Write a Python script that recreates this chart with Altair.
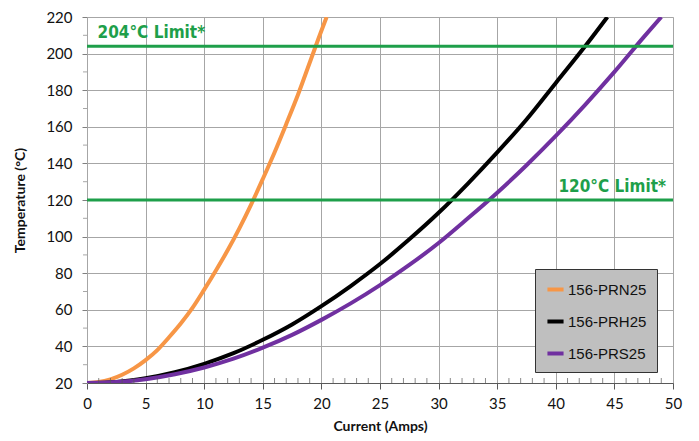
import altair as alt
import pandas as pd

# Data
prn_i = [0, 1, 2, 3, 4, 5, 6, 7, 8, 9, 10, 11, 12, 13, 14, 15, 16, 17, 18, 19, 20, 20.45]
prn_t = [20, 20.5, 22, 24.5, 28, 32.5, 38, 45, 52.5, 61, 71, 81.5, 92.5, 104.5, 117.5, 131.5, 146, 161.5, 177.5, 195, 212.5, 220]

prh_i = [0, 2.5, 5, 7.5, 10, 12.5, 15, 17.5, 20, 22.5, 25, 27.5, 30, 32.5, 35, 37.5, 40, 42.5, 44.4]
prh_t = [20, 20.6, 22.6, 25.9, 30.5, 36.3, 43.6, 52, 62, 73, 85, 98.5, 113, 129, 146, 164, 184, 204, 220]

prs_i = [0, 2.5, 5, 7.5, 10, 12.5, 15, 17.5, 20, 22.5, 25, 27.5, 30, 32.5, 35, 37.5, 40, 42.5, 45, 47.5, 49]
prs_t = [20, 20.5, 22.1, 24.8, 28.5, 33.3, 39.3, 46.3, 54.5, 63.5, 73.5, 84.5, 96.5, 110, 124, 139, 155, 172, 190, 209, 220]

series_names = ["156-PRN25", "156-PRH25", "156-PRS25"]
series_colors = ["#F79646", "#000000", "#7030A0"]

limit_values = [204, 120]
limit_labels = ["204°C Limit*", "120°C  Limit*"]
limit_label_x = [0.9, 49.4]

x_ticks = [0, 5, 10, 15, 20, 25, 30, 35, 40, 45, 50]
y_ticks = [20, 40, 60, 80, 100, 120, 140, 160, 180, 200, 220]
x_minor = [v for v in range(0, 51) if v % 5 != 0]
y_minor = [30, 50, 70, 90, 110, 130, 150, 170, 190, 210]

rows = []
for name, xs, ys in zip(series_names, [prn_i, prh_i, prs_i], [prn_t, prh_t, prs_t]):
    for i, (a, b) in enumerate(zip(xs, ys)):
        rows.append({"series": name, "current": a, "temp": b, "order": i})
df = pd.DataFrame(rows)

GREEN = "#1E9F4A"
GRID = "#A6A6A6"
LABEL_FONT = "DejaVu Sans Condensed, Liberation Sans Narrow, Liberation Sans"

xscale = alt.Scale(domain=[0, 50], nice=False, zero=False)
yscale = alt.Scale(domain=[20, 220], nice=False, zero=False)

x_axis = alt.Axis(values=x_ticks, grid=True, gridColor=GRID, gridWidth=1,
                  domainColor="#595959", tickColor="#595959", tickSize=6,
                  labelFont="Lato", labelFontSize=15, labelColor="#111", labelPadding=7,
                  labelFlush=False, labelOverlap=False,
                  titleFont="Lato", titleFontSize=14, titleFontWeight="bold", titlePadding=8,
                  titleColor="#111")
y_axis = alt.Axis(values=y_ticks, grid=True, gridColor=GRID, gridWidth=1,
                  domainColor=GRID, tickColor="#808080", tickSize=5,
                  labelFont="Lato", labelFontSize=15, labelColor="#111", labelPadding=10,
                  labelFlush=False, labelOverlap=False,
                  titleFont="Lato", titleFontSize=14, titleFontWeight="bold", titlePadding=18,
                  titleColor="#111")

x_enc = alt.X("current:Q", scale=xscale, title="Current (Amps)", axis=x_axis)
y_enc = alt.Y("temp:Q", scale=yscale, title="Temperature (°C)", axis=y_axis)

limits_df = pd.DataFrame({"temp": limit_values, "label": limit_labels, "current": limit_label_x})

lines = alt.Chart(df).mark_line(strokeWidth=4, clip=True, interpolate="monotone").encode(
    x=x_enc, y=y_enc, order="order:Q",
    color=alt.Color("series:N",
                    scale=alt.Scale(domain=series_names, range=series_colors),
                    legend=alt.Legend(title=None, orient="none", legendX=448, legendY=252,
                                      fillColor="#BFBFBF", strokeColor="#333333",
                                      padding=10, symbolType="stroke", symbolStrokeWidth=4,
                                      symbolSize=260, labelFont="Liberation Sans",
                                      labelFontSize=15, labelColor="#111", rowPadding=13,
                                      labelOffset=2)))

limit_rules = alt.Chart(limits_df).mark_rule(color=GREEN, strokeWidth=3).encode(y=y_enc)

label_left = alt.Chart(limits_df.iloc[[0]]).mark_text(
    align="left", baseline="bottom", dy=-4, color=GREEN, fontSize=17, fontWeight="bold",
    font=LABEL_FONT).encode(x=x_enc, y=y_enc, text="label:N")
label_right = alt.Chart(limits_df.iloc[[1]]).mark_text(
    align="right", baseline="bottom", dy=-4, color=GREEN, fontSize=17, fontWeight="bold",
    font=LABEL_FONT).encode(x=x_enc, y=y_enc, text="label:N")

xminor_df = pd.DataFrame({"current": x_minor, "temp": [20] * len(x_minor)})
xminor = alt.Chart(xminor_df).mark_tick(orient="vertical", size=5, yOffset=-2.5,
                                         color="#595959", thickness=1).encode(x=x_enc, y=y_enc)

yminor_df = pd.DataFrame({"current": [0] * len(y_minor), "temp": y_minor})
yminor = alt.Chart(yminor_df).mark_tick(orient="horizontal", size=4, xOffset=-2,
                                         color="#808080", thickness=1).encode(x=x_enc, y=y_enc)

chart = alt.layer(lines, limit_rules, xminor, yminor, label_left, label_right).properties(
    width=586, height=366,
    padding={"left": 79, "top": 9, "right": 18, "bottom": 56},
    autosize=alt.AutoSizeParams(type="none"),
).configure_view(stroke=None).configure(background="white")

chart.save("out.html", embed_options={"renderer": "svg", "actions": False})
